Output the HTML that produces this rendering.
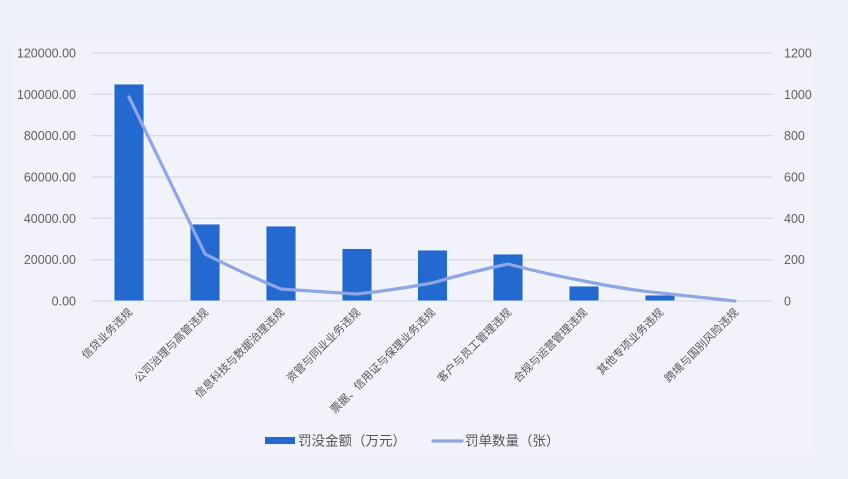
<!DOCTYPE html>
<html><head><meta charset="utf-8"><style>
html,body{margin:0;padding:0;background:#eef0f8;}
svg{display:block;font-family:"Liberation Sans","Noto Sans CJK SC",sans-serif;}
</style></head><body>
<svg width="848" height="479" viewBox="0 0 848 479">
<rect x="0" y="0" width="848" height="479" fill="#eef0f8"/>
<rect x="13" y="42" width="802" height="413" fill="#f2f3fa"/>
<g stroke="#d9dae3" stroke-width="1.3">
<line x1="91" x2="773" y1="53" y2="53"/>
<line x1="91" x2="773" y1="94.3" y2="94.3"/>
<line x1="91" x2="773" y1="135.7" y2="135.7"/>
<line x1="91" x2="773" y1="177" y2="177"/>
<line x1="91" x2="773" y1="218.3" y2="218.3"/>
<line x1="91" x2="773" y1="259.7" y2="259.7"/>
<line x1="91" x2="773" y1="301" y2="301"/>
</g>
<g font-size="12.5" fill="#606060" text-anchor="end">
<text x="76" y="57.5">120000.00</text>
<text x="76" y="98.8">100000.00</text>
<text x="76" y="140.2">80000.00</text>
<text x="76" y="181.5">60000.00</text>
<text x="76" y="222.8">40000.00</text>
<text x="76" y="264.2">20000.00</text>
<text x="76" y="305.5">0.00</text>
</g>
<g font-size="12.5" fill="#606060" text-anchor="start">
<text x="784" y="57.5">1200</text>
<text x="784" y="98.8">1000</text>
<text x="784" y="140.2">800</text>
<text x="784" y="181.5">600</text>
<text x="784" y="222.8">400</text>
<text x="784" y="264.2">200</text>
<text x="784" y="305.5">0</text>
</g>
<g fill="#2469cf" stroke="#ffffff" stroke-width="0.8">
<rect x="114" y="84" width="30" height="217"/>
<rect x="190" y="224" width="30" height="77"/>
<rect x="266" y="226" width="30" height="75"/>
<rect x="342" y="248.5" width="30" height="52.5"/>
<rect x="417.5" y="250" width="30" height="51"/>
<rect x="493" y="254" width="30" height="47"/>
<rect x="569" y="286" width="30" height="15"/>
<rect x="645" y="295" width="30" height="6"/>
</g>
<path d="M129,97 L205,254 Q240,272 281,289 L356,294 Q395,290 432,283 Q470,272 508,264 Q546,274 584,281 Q622,289 660,293 L735,301" fill="none" stroke="#8ea5e8" stroke-width="3.2" stroke-linecap="round" stroke-linejoin="round"/>
<g font-size="11" fill="#555">
<text transform="translate(133,313) rotate(-45)" text-anchor="end">信贷业务违规</text>
<text transform="translate(209,313) rotate(-45)" text-anchor="end">公司治理与高管违规</text>
<text transform="translate(285,313) rotate(-45)" text-anchor="end">信息科技与数据治理违规</text>
<text transform="translate(361,313) rotate(-45)" text-anchor="end">资管与同业业务违规</text>
<text transform="translate(436,313) rotate(-45)" text-anchor="end">票据、信用证与保理业务违规</text>
<text transform="translate(512,313) rotate(-45)" text-anchor="end">客户与员工管理违规</text>
<text transform="translate(588,313) rotate(-45)" text-anchor="end">合规与运营管理违规</text>
<text transform="translate(664,313) rotate(-45)" text-anchor="end">其他专项业务违规</text>
<text transform="translate(739,313) rotate(-45)" text-anchor="end">跨境与国别风险违规</text>
</g>
<rect x="265" y="437" width="30" height="7" fill="#2469cf"/>
<text x="298" y="445.5" font-size="13.5" fill="#555">罚没金额（万元）</text>
<line x1="433" x2="462" y1="441" y2="441" stroke="#8ea5e8" stroke-width="3.2" stroke-linecap="round"/>
<text x="465" y="445.5" font-size="13.5" fill="#555">罚单数量（张）</text>
</svg>
</body></html>
